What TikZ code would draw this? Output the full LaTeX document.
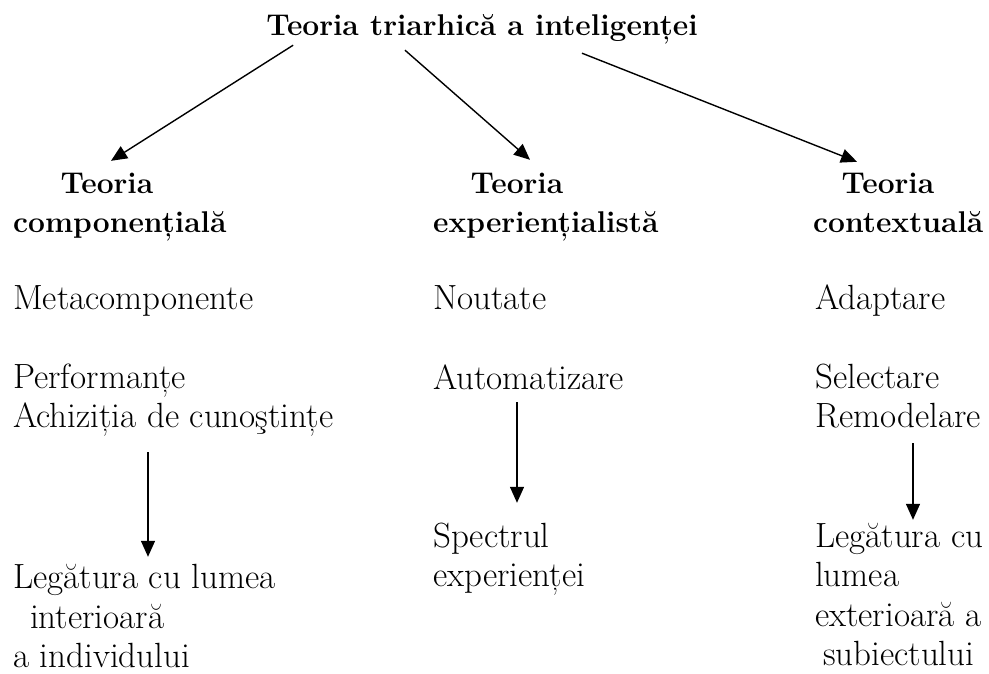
\documentclass[tikz,border=0pt]{standalone}
\usepackage{fontspec}
\usetikzlibrary{arrows.meta}

\tikzset{
    txt/.style={inner sep=0pt, text height=24pt, text depth=8pt, anchor=base west,
                font=\fontsize{35}{42}\selectfont},
    head/.style={txt, font=\fontsize{30}{37}\selectfont\bfseries},
    arr/.style={-{Triangle[length=16pt,width=14pt]}, line width=1.4pt}
}

\begin{document}
\begin{tikzpicture}[x=1pt,y=-1pt]

        % Page
        \fill[white] (0,0) rectangle (989,673);
        \useasboundingbox (0,0) rectangle (989,673);

        % Title
        \node[head, anchor=base] (title) at (482,35) {Teoria triarhică a inteligenței};

        % Column of the componential theory
        \node[head, anchor=base] (teoA) at (107,193) {Teoria};
        \node[head] (compA) at (13,232) {componențială};
        \node[txt] (meta) at (13,309) {Metacomponente};
        \node[txt] (perf) at (13,388) {Performanțe};
        \node[txt] (achiz) at (13,427) {Achiziția de cunoştințe};
        \node[txt] (legA1) at (13,588) {Legătura cu lumea};
        \node[txt] (legA2) at (30,628) {interioară};
        \node[txt] (legA3) at (13,667) {a individului};

        % Column of the experiential theory
        \node[head, anchor=base] (teoB) at (517,193) {Teoria};
        \node[head] (expB) at (433,232) {experiențialistă};
        \node[txt] (nout) at (433,309) {Noutate};
        \node[txt] (autom) at (433,389) {Automatizare};
        \node[txt] (spec1) at (433,547) {Spectrul};
        \node[txt] (spec2) at (433,586) {experienței};

        % Column of the contextual theory
        \node[head, anchor=base] (teoC) at (888,193) {Teoria};
        \node[head] (contC) at (813,232) {contextuală};
        \node[txt] (adapt) at (815,309) {Adaptare};
        \node[txt] (selec) at (815,388) {Selectare};
        \node[txt] (remod) at (815,427) {Remodelare};
        \node[txt] (legC1) at (815,547) {Legătura cu};
        \node[txt] (legC2) at (815,586) {lumea};
        \node[txt] (legC3) at (815,626) {exterioară a};
        \node[txt] (legC4) at (823,665) {subiectului};

        % Arrows from the title
        \draw[arr] ([xshift=27pt,yshift=-2pt]title.south west) -- ([xshift=4pt,yshift=8pt]teoA.north);
        \draw[arr] ([xshift=-77pt,yshift=-7pt]title.south) -- ([xshift=13pt,yshift=9pt]teoB.north);
        \draw[arr] ([xshift=100pt,yshift=-10pt]title.south) -- ([xshift=-31pt,yshift=7pt]teoC.north);

        % Arrows down the columns
        \draw[arr] ([xshift=135pt,yshift=-17pt]achiz.south west) -- ([xshift=135pt,yshift=7pt]legA1.north west);
        \draw[arr] ([xshift=84pt,yshift=-5pt]autom.south west) -- ([xshift=84pt,yshift=20pt]spec1.north west);
        \draw[arr] ([xshift=98pt,yshift=-8pt]remod.south west) -- ([xshift=98pt,yshift=3pt]legC1.north west);

\end{tikzpicture}
\end{document}
